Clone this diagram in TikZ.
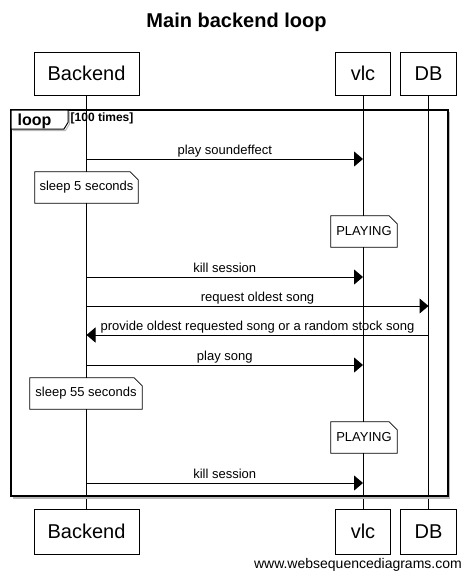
\documentclass[tikz,border=0pt]{standalone}
\usepackage{fontspec}
\setmainfont{Liberation Sans}
\usetikzlibrary{arrows.meta,calc}
\begin{document}
\begin{tikzpicture}[x=1pt,y=-1pt,
  part/.style={draw,line width=1pt,fill=white,inner sep=0pt,font=\fontsize{20}{24}\selectfont},
  life/.style={line width=1pt},
  msg/.style={line width=1pt,-{Triangle[length=9pt,width=15pt]}},
  lbl/.style={font=\fontsize{13}{15}\selectfont,inner sep=1pt,text height=9.5pt,text depth=3pt},
  notebox/.style={inner sep=0pt,fill=white,font=\fontsize{13}{15}\selectfont},
  noteline/.style={draw,line width=0.8pt}
]
\useasboundingbox (0,0) rectangle (471,579);

% title
\node[anchor=base,font=\fontsize{20}{24}\selectfont\bfseries] (title) at (236.5,27.3) {Main backend loop};

% participants
\node[part,minimum width=105pt,minimum height=43pt] (bT) at (86.5,73.5) {Backend};
\node[part,minimum width=55pt,minimum height=43pt] (vT) at (363,73.5) {vlc};
\node[part,minimum width=56pt,minimum height=43pt] (dT) at (428.5,73.5) {DB};
\node[part,minimum width=105pt,minimum height=45pt] (bB) at (86.5,531.5) {Backend};
\node[part,minimum width=55pt,minimum height=45pt] (vB) at (363,531.5) {vlc};
\node[part,minimum width=56pt,minimum height=45pt] (dB) at (428.5,531.5) {DB};

% lifelines
\draw[life] (bT.south) -- (bB.north);
\draw[life] (vT.south) -- (vB.north);
\draw[life] (dT.south) -- (dB.north);

% loop frame
\draw[gray!55,line width=2pt] (449,111.5) -- (449,497.5) -- (12.5,497.5);
\draw[line width=2pt] (11,110) rectangle (447.5,496);
\draw[gray!55,line width=1pt] (69.5,111.5) -- (69.5,124) -- (65.5,130.5) -- (12.5,130.5);
\draw[line width=1pt,fill=white] (11,110) -- (68,110) -- (68,122.5) -- (64,129) -- (11,129) -- cycle;
\node[anchor=base west,inner sep=0pt,font=\fontsize{16}{19}\selectfont\bfseries] (looplbl) at (17.5,125) {loop};
\node[anchor=base west,inner sep=0pt,font=\fontsize{12}{14}\selectfont\bfseries] (loopcond) at (70.5,121.5) {[100 times]};

% message anchor points
\coordinate (m1a) at (bT |- 0,159);   \coordinate (m1b) at (vT |- 0,159);
\coordinate (m2a) at (bT |- 0,277);   \coordinate (m2b) at (vT |- 0,277);
\coordinate (m3a) at (bT |- 0,306);   \coordinate (m3b) at (dT |- 0,306);
\coordinate (m4a) at (dT |- 0,335);   \coordinate (m4b) at (bT |- 0,335);
\coordinate (m5a) at (bT |- 0,365);   \coordinate (m5b) at (vT |- 0,365);
\coordinate (m6a) at (bT |- 0,483);   \coordinate (m6b) at (vT |- 0,483);

\draw[msg] (m1a) -- (m1b) node[lbl,midway,anchor=south] (l1) {play soundeffect};
\draw[msg] (m2a) -- (m2b) node[lbl,midway,anchor=south] (l2) {kill session};
\draw[msg] (m3a) -- (m3b) node[lbl,midway,anchor=south] (l3) {request oldest song};
\draw[msg] (m4a) -- (m4b) node[lbl,midway,anchor=south] (l4) {provide oldest requested song or a random stock song};
\draw[msg] (m5a) -- (m5b) node[lbl,midway,anchor=south] (l5) {play song};
\draw[msg] (m6a) -- (m6b) node[lbl,midway,anchor=south] (l6) {kill session};

% notes
\node[notebox,minimum width=103pt,minimum height=31pt] (n1) at (86.5,187.5) {sleep 5 seconds};
\draw[noteline] (n1.south west) -- (n1.north west) -- ([xshift=-8pt]n1.north east) -- ([yshift=-8pt]n1.north east) -- (n1.south east) -- cycle;
\node[notebox,minimum width=66pt,minimum height=31pt] (n2) at (364,231.5) {PLAYING};
\draw[noteline] (n2.south west) -- (n2.north west) -- ([xshift=-8pt]n2.north east) -- ([yshift=-8pt]n2.north east) -- (n2.south east) -- cycle;
\node[notebox,minimum width=112pt,minimum height=31pt] (n3) at (86,393.5) {sleep 55 seconds};
\draw[noteline] (n3.south west) -- (n3.north west) -- ([xshift=-8pt]n3.north east) -- ([yshift=-8pt]n3.north east) -- (n3.south east) -- cycle;
\node[notebox,minimum width=66pt,minimum height=31pt] (n4) at (364,437.5) {PLAYING};
\draw[noteline] (n4.south west) -- (n4.north west) -- ([xshift=-8pt]n4.north east) -- ([yshift=-8pt]n4.north east) -- (n4.south east) -- cycle;

% watermark
\node[anchor=base east,inner sep=0pt,font=\fontsize{14}{17}\selectfont] (wm) at (462,568) {www.websequencediagrams.com};
\end{tikzpicture}
\end{document}
